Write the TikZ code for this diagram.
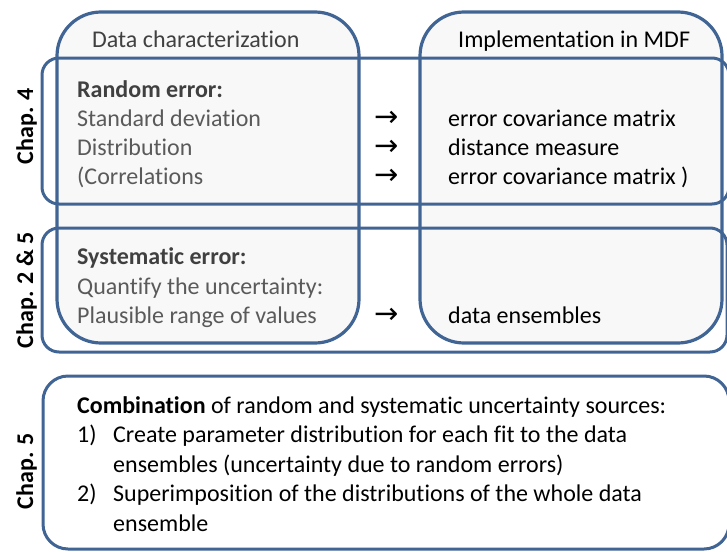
\documentclass[tikz,border=0pt]{standalone}
\usepackage{fontspec}
\setmainfont{Carlito}[Ligatures=NoCommon]
\newfontfamily\arrowfont{DejaVu Sans}
\definecolor{bordblue}{RGB}{64,100,148}
\definecolor{colfill}{RGB}{248,248,248}
\definecolor{txgray}{RGB}{90,90,90}
\definecolor{txdark}{RGB}{64,64,64}
\begin{document}
\begin{tikzpicture}[x=1pt,y=-1pt,
  colbox/.style={draw=bordblue,line width=3.2pt,fill=colfill,rounded corners=44pt},
  chapbox/.style={draw=bordblue,line width=3pt,rounded corners=17pt},
  combox/.style={draw=bordblue,line width=3pt,fill=white,rounded corners=25pt},
  txt/.style={anchor=base west,inner sep=0pt,font=\fontsize{24}{29.5}\selectfont},
  ltxt/.style={txt,text=txgray},
  rtxt/.style={txt,text=black},
  arr/.style={anchor=base west,inner sep=0pt,font=\arrowfont\fontsize{29}{30}\selectfont},
  chaplbl/.style={anchor=base,inner sep=0pt,rotate=90,font=\fontsize{24}{29.5}\selectfont\bfseries}
]
\useasboundingbox (0,0) rectangle (727,551);
% columns
\draw[colbox] (57,12) rectangle (359,343);
\draw[colbox] (420,12) rectangle (722,343);
% chapter boxes
\draw[chapbox] (42,58) rectangle (729,204);
\draw[chapbox] (42,228) rectangle (727,352);
\draw[combox] (43,376) rectangle (729,549);
% titles
\node[txt,text=txdark] (t1) at (92,48) {Data characterization};
\node[rtxt] (t2) at (458,48) {Implementation in MDF};
% random error
\node[txt,text=txdark,font=\fontsize{24}{29.5}\selectfont\bfseries] (re) at (77,97) {Random error:};
\node[ltxt] (sd) at (77,126) {Standard deviation};
\node[ltxt] (di) at (77,155) {Distribution};
\node[ltxt] (co) at (77,184) {(Correlations};
\node[arr] (a1) at (374,126) {→};
\node[arr] (a2) at (374,155) {→};
\node[arr] (a3) at (374,184) {→};
\node[rtxt] (r1) at (448,126) {error covariance matrix};
\node[rtxt] (r2) at (448,155) {distance measure};
\node[rtxt] (r3) at (448,184) {error covariance matrix )};
% systematic error
\node[txt,text=txdark,font=\fontsize{24}{29.5}\selectfont\bfseries] (se) at (77,264) {Systematic error:};
\node[ltxt] (qu) at (77,294) {Quantify the uncertainty:};
\node[ltxt] (pl) at (77,323) {Plausible range of values};
\node[arr] (a4) at (374,323) {→};
\node[rtxt] (r4) at (448,323) {data ensembles};
% combination
\node[rtxt] (c0) at (77,413) {\textbf{Combination} of random and systematic uncertainty sources:};
\node[rtxt] (c1n) at (77,442.5) {1)};
\node[rtxt] (c1) at (113,442.5) {Create parameter distribution for each fit to the data};
\node[rtxt] (c1b) at (113,472) {ensembles (uncertainty due to random errors)};
\node[rtxt] (c2n) at (77,501.5) {2)};
\node[rtxt] (c2) at (113,501.5) {Superimposition of the distributions of the whole data};
\node[rtxt] (c2b) at (113,531) {ensemble};
% chapter labels
\node[chaplbl] (ch4) at (33,126) {Chap. 4};
\node[chaplbl] (ch25) at (33,290) {Chap. 2 \& 5};
\node[chaplbl] (ch5) at (33,471) {Chap. 5};
\end{tikzpicture}
\end{document}
